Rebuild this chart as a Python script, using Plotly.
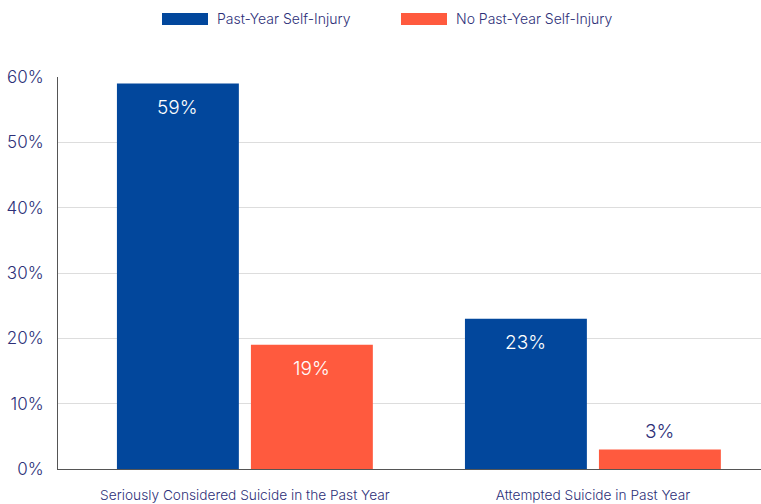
import plotly.graph_objects as go

categories = ["Seriously Considered Suicide in the Past Year", "Attempted Suicide in Past Year"]
series_names = ["Past-Year Self-Injury", "No Past-Year Self-Injury"]
self_injury = [59, 23]
no_self_injury = [19, 3]
y_ticks = [0, 10, 20, 30, 40, 50, 60]
y_tick_labels = ["0%", "10%", "20%", "30%", "40%", "50%", "60%"]

BLUE = "#02479c"
ORANGE = "#ff5a3e"
NAVY = "#2d2f78"
FONT = "Inter, Lato, sans-serif"
W = 300

fig = go.Figure()
fig.add_trace(go.Bar(x=categories, y=self_injury, name=series_names[0],
                     marker=dict(color=BLUE, line=dict(width=0))))
fig.add_trace(go.Bar(x=categories, y=no_self_injury, name=series_names[1],
                     marker=dict(color=ORANGE, line=dict(width=0))))

# value labels
series = [(self_injury, -1), (no_self_injury, 1)]
annotations = []
for vals, side in series:
    for i, v in enumerate(vals):
        inside = v >= 8
        color = "white" if inside else NAVY
        annotations.append(dict(
            x=i, y=v, xref="x", yref="y", text=f"{v}%", showarrow=False,
            xshift=side * 67, yshift=-24 if inside else 18,
            font=dict(family=FONT, size=19, color=color, weight=W)))

# custom legend
legend_items = [(series_names[0], BLUE, 162), (series_names[1], ORANGE, 401)]
shapes = []
for name, col, x0 in legend_items:
    shapes.append(dict(type="rect", xref="paper", yref="paper",
                       x0=(x0 - 58) / 703, x1=(x0 + 46 - 58) / 703,
                       y0=1 + (77 - 25) / 392, y1=1 + (77 - 13) / 392,
                       fillcolor=col, line=dict(width=0)))
    annotations.append(dict(x=(x0 + 53 - 58) / 703, y=1 + (77 - 19) / 392,
                            xref="paper", yref="paper", xanchor="left", yanchor="middle",
                            text=name, showarrow=False,
                            font=dict(family=FONT, size=14, color=NAVY, weight=W)))

fig.update_layout(
    width=761, height=504,
    margin=dict(l=58, r=0, t=77, b=35),
    paper_bgcolor="white", plot_bgcolor="white",
    barmode="group", bargap=0.23, bargroupgap=0.09,
    showlegend=False,
    annotations=annotations, shapes=shapes,
    font=dict(family=FONT, color=NAVY),
)
fig.update_xaxes(range=[-0.537, 1.483], showline=True, linecolor="#555555", linewidth=1,
                 showgrid=False, ticks="", ticklabelstandoff=14,
                 tickfont=dict(family=FONT, size=13.7, color=NAVY, weight=W))
fig.update_yaxes(range=[0, 60], tickvals=y_ticks, ticktext=y_tick_labels,
                 showline=True, linecolor="#555555", linewidth=1,
                 showgrid=True, gridcolor="#dddddd", gridwidth=1, zeroline=False,
                 ticks="", ticklabelstandoff=10,
                 tickfont=dict(family=FONT, size=17, color=NAVY, weight=W))

fig.write_html("out.html")
